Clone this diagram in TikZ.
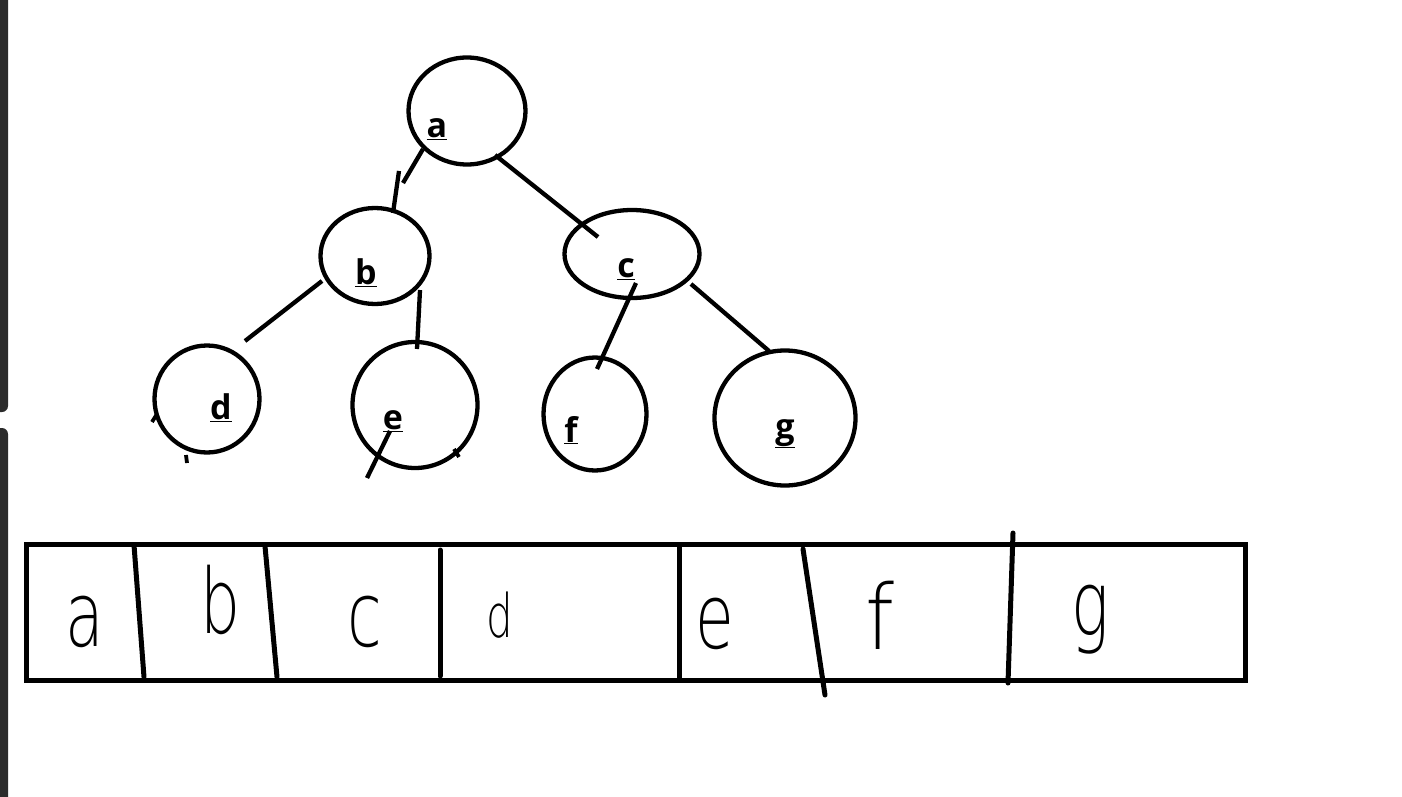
\documentclass[tikz,border=0pt]{standalone}
\usepackage{fontspec}
\setmainfont{Open Sans}
\newfontfamily\handfont{DejaVu Sans ExtraLight}
\usetikzlibrary{shapes.geometric}
\definecolor{barc}{HTML}{2B2B2B}
\begin{document}
\begin{tikzpicture}[x=1pt,y=-1pt,
  vert/.style={draw=black,line width=4.3pt,ellipse,inner sep=0pt,outer sep=0pt},
  lab/.style={anchor=base,inner sep=0pt,font=\fontsize{34}{36}\selectfont\bfseries},
  edge/.style={draw=black,line width=4.3pt},
  tick/.style={draw=black,line width=3.8pt},
  cell/.style={draw=black,line width=5pt},
  divider/.style={draw=black,line width=5pt,line cap=round},
  hand/.style={inner sep=0pt,font=\handfont\fontsize{90}{90}\selectfont,xscale=0.7,transform shape}]
\useasboundingbox (0,0) rectangle (1402,797);
\fill[white] (0,0) rectangle (1402,797);
% side bar
\fill[barc,rounded corners=6pt] (-10,-10) rectangle (8,412);
\fill[barc,rounded corners=6pt] (-10,428) rectangle (8,807);
% tree nodes
\node[vert,minimum width=117pt,minimum height=107pt] (a) at (467,111) {};
\node[vert,minimum width=109pt,minimum height=96pt] (b) at (375,256) {};
\node[vert,minimum width=135pt,minimum height=88pt] (c) at (632,254) {};
\node[vert,minimum width=105pt,minimum height=107pt] (d) at (207,399) {};
\node[vert,minimum width=125pt,minimum height=126pt] (e) at (415,405) {};
\node[vert,minimum width=103pt,minimum height=113pt] (f) at (595,414) {};
\node[vert,minimum width=141pt,minimum height=135pt] (g) at (785,418) {};
% labels
\node[lab] (la) at (437,137) {\underline{a}};
\node[lab] (lb) at (366,284) {\underline{b}};
\node[lab] (lc) at (626,277) {\underline{c}};
\node[lab] (ld) at (221,419) {\underline{d}};
\node[lab] (le) at (393,429) {\underline{e}};
\node[lab] (lf) at (571,442) {\underline{f}};
\node[lab] (lg) at (785,438) {\underline{g}};
% connector points
\coordinate (ab1) at (423,149); \coordinate (ab2) at (403,183);
\coordinate (ab3) at (399,171); \coordinate (ab4) at (393,213);
\coordinate (ac1) at (495,155); \coordinate (ac2) at (598,237);
\coordinate (bd1) at (322,281); \coordinate (bd2) at (245,341);
\coordinate (be1) at (420,290); \coordinate (be2) at (417,349);
\coordinate (cf1) at (636,283); \coordinate (cf2) at (597,369);
\coordinate (cg1) at (691,284); \coordinate (cg2) at (769,351);
\coordinate (ex1) at (390,431); \coordinate (ex2) at (367,478);
\coordinate (dt1) at (152,422); \coordinate (dt2) at (157,414);
\coordinate (dt3) at (186,455); \coordinate (dt4) at (187,463);
\coordinate (et1) at (454,449); \coordinate (et2) at (459,457);
\draw[edge] (ab1) -- (ab2);
\draw[edge] (ab3) -- (ab4);
\draw[edge] (ac1) -- (ac2);
\draw[edge] (bd1) -- (bd2);
\draw[edge] (be1) -- (be2);
\draw[edge] (cf1) -- (cf2);
\draw[edge] (cg1) -- (cg2);
\draw[edge] (ex1) -- (ex2);
\draw[tick] (dt1) -- (dt2);
\draw[tick] (dt3) -- (dt4);
\draw[tick] (et1) -- (et2);
% array
\draw[cell] (26,544) rectangle (1245,680);
\coordinate (v1t) at (134,545); \coordinate (v1b) at (144,677);
\coordinate (v2t) at (265,546); \coordinate (v2b) at (277,677);
\coordinate (v3t) at (440,550); \coordinate (v3b) at (440,676);
\coordinate (v4t) at (679,545); \coordinate (v4b) at (679,678);
\coordinate (v5t) at (803,549); \coordinate (v5b) at (825,695);
\coordinate (v6t) at (1013,533); \coordinate (v6b) at (1008,683);
\draw[divider] (v1t) -- (v1b);
\draw[divider] (v2t) -- (v2b);
\draw[divider] (v3t) -- (v3b);
\draw[divider] (v4t) -- (v4b);
\draw[divider] (v5t) -- (v5b);
\draw[divider] (v6t) -- (v6b);
% handwritten letters
\node[hand] (ha) at (85,622) {a};
\node[hand] (hb) at (220,600) {b};
\node[hand] (hc) at (365,622) {c};
\node[hand,font=\handfont\fontsize{60}{60}\selectfont] (hd) at (500,615) {d};
\node[hand] (he) at (715,624) {e};
\node[hand,xscale=1.3] (hf) at (880,615) {f};
\node[hand] (hg) at (1090,620) {g};
\end{tikzpicture}
\end{document}
